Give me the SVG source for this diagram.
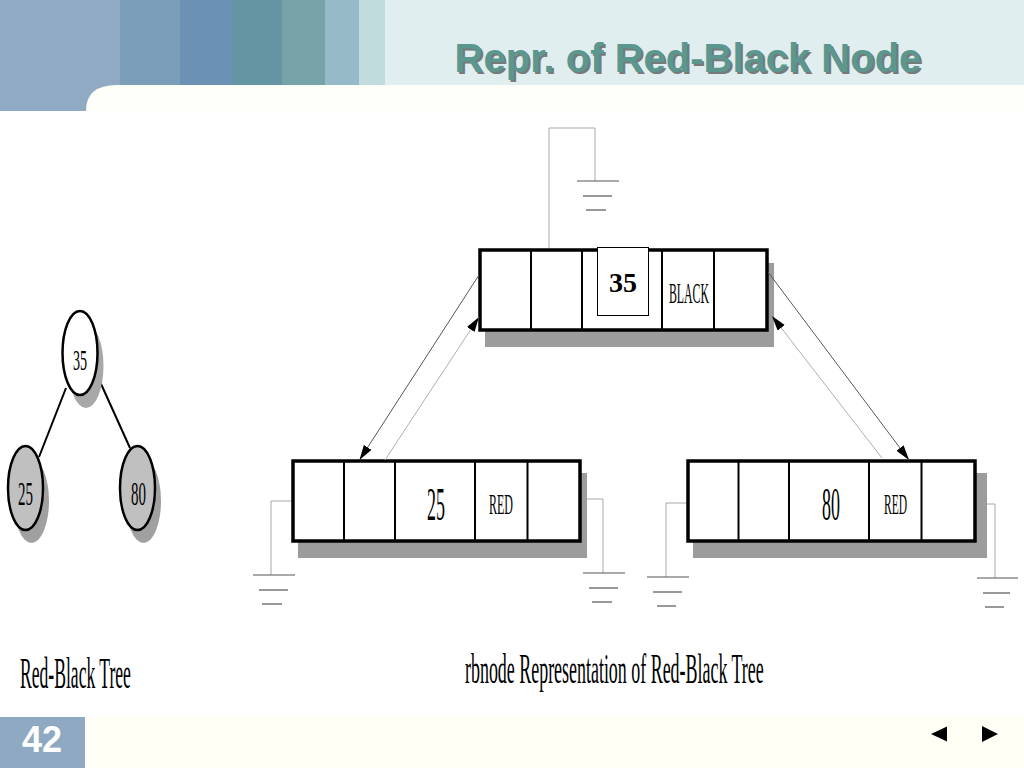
<svg xmlns="http://www.w3.org/2000/svg" width="1024" height="768" viewBox="0 0 1024 768">
  <defs>
    <style>
      .serif { font-family: "Liberation Serif", "Times New Roman", serif; fill: #000; }
      .box { fill: #fff; stroke: #000; stroke-width: 3.5; }
      .div { stroke: #000; stroke-width: 2; }
      .shadow { fill: #9c9c9c; }
      .wire { fill: none; stroke: #a8a8a8; stroke-width: 1; }
      .gnd { stroke: #555; stroke-width: 1.2; }
      .edge { stroke: #000; stroke-width: 2; }
    </style>
    <marker id="arr" markerUnits="userSpaceOnUse" markerWidth="16" markerHeight="10" refX="15" refY="4.5" orient="auto">
      <path d="M0,0 L15,4.5 L0,9 Z" fill="#000"/>
    </marker>
  </defs>

  <!-- background -->
  <rect x="0" y="0" width="1024" height="768" fill="#ffffff"/>
  <g id="header">
    <rect x="0" y="0" width="1024" height="85" fill="#e1eeef"/>
    <rect x="0" y="0" width="120" height="111" fill="#91aac3"/>
    <rect x="120" y="0" width="60" height="85" fill="#7a9db9"/>
    <rect x="180" y="0" width="52" height="85" fill="#6b91b5"/>
    <rect x="232" y="0" width="50" height="85" fill="#6595a3"/>
    <rect x="282" y="0" width="43" height="85" fill="#76a3a8"/>
    <rect x="325" y="0" width="34" height="85" fill="#96bac8"/>
    <rect x="359" y="0" width="26" height="85" fill="#c1dcdd"/>
    <path d="M86,111 Q86,85 117,85 L1024,85 L1024,111 Z" fill="#fffffa"/>
    <text x="690" y="74" font-family="Liberation Sans, Arial, sans-serif" font-size="40" font-weight="bold" text-anchor="middle" fill="#666666" opacity="0.85">Repr. of Red-Black Node</text>
    <text x="688" y="72" font-family="Liberation Sans, Arial, sans-serif" font-size="40" font-weight="bold" text-anchor="middle" fill="#5b978f">Repr. of Red-Black Node</text>
  </g>

  <g id="footer">
    <rect x="0" y="717" width="1024" height="51" fill="#fffff6"/>
    <rect x="0" y="717" width="85" height="51" fill="#8fa9c2"/>
    <text x="42" y="752" font-family="Liberation Sans, Arial, sans-serif" font-size="36" font-weight="bold" text-anchor="middle" fill="#ffffff">42</text>
    <path d="M931,734 L947,726.5 L947,741.5 Z" fill="#000"/>
    <path d="M998,734 L982,726 L982,742 Z" fill="#000"/>
  </g>

  <!-- Left: red-black tree -->
  <g id="tree-edges">
    <line class="edge" x1="66" y1="388" x2="39" y2="457"/>
    <line class="edge" x1="97" y1="375" x2="130" y2="448"/>
  </g>
  <g id="tree-35">
    <ellipse cx="86" cy="366" rx="17.5" ry="42" fill="#a8a8a8"/>
    <ellipse cx="80" cy="353" rx="17.5" ry="42" fill="#fff" stroke="#000" stroke-width="2.5"/>
    <text class="serif" transform="translate(80,370) scale(0.47,1)" x="0" y="0" font-size="30" text-anchor="middle">35</text>
  </g>
  <g id="tree-25">
    <ellipse cx="31.5" cy="501" rx="17.5" ry="42" fill="#a0a0a0"/>
    <ellipse cx="25.5" cy="488" rx="17.5" ry="42" fill="#c0c0c0" stroke="#000" stroke-width="2.5"/>
    <text class="serif" transform="translate(25.5,505) scale(0.44,1)" x="0" y="0" font-size="34" text-anchor="middle">25</text>
  </g>
  <g id="tree-80">
    <ellipse cx="143.5" cy="501" rx="17.5" ry="42" fill="#a0a0a0"/>
    <ellipse cx="137.5" cy="488" rx="17.5" ry="42" fill="#c0c0c0" stroke="#000" stroke-width="2.5"/>
    <text class="serif" transform="translate(138.5,505) scale(0.44,1)" x="0" y="0" font-size="34" text-anchor="middle">80</text>
  </g>
  <text class="serif" transform="translate(20,688) scale(0.4,1)" x="0" y="0" font-size="44">Red-Black Tree</text>

  <!-- rbnode representation -->
  <g id="rb-35">
    <polyline class="wire" points="549,248 549,128 595,128 595,181"/>
    <line class="gnd" x1="577" y1="181" x2="619" y2="181"/>
    <line class="gnd" x1="583" y1="196" x2="612" y2="196" stroke="#888"/>
    <line class="gnd" x1="586" y1="210" x2="606" y2="210"/>
    <rect class="shadow" x="485" y="263" width="289" height="84"/>
    <rect class="box" x="480" y="250" width="287" height="80"/>
    <line class="div" x1="531" y1="250" x2="531" y2="330"/>
    <line class="div" x1="582" y1="250" x2="582" y2="330"/>
    <line class="div" x1="662" y1="250" x2="662" y2="330"/>
    <line class="div" x1="714" y1="250" x2="714" y2="330"/>
    <rect x="597.5" y="247.5" width="51" height="68" fill="#fff" stroke="#000" stroke-width="1"/>
    <text class="serif" x="623" y="292" font-size="28" font-weight="bold" text-anchor="middle">35</text>
    <text class="serif" transform="translate(669,303) scale(0.393,1)" x="0" y="0" font-size="30">BLACK</text>
  </g>

  <g id="rb-25">
    <polyline class="wire" points="293,501 271,501 271,575"/>
    <line class="gnd" x1="253" y1="575" x2="295" y2="575"/>
    <line class="gnd" x1="259" y1="590" x2="288" y2="590" stroke="#888"/>
    <line class="gnd" x1="262" y1="604" x2="282" y2="604"/>
    <polyline class="wire" points="581,499 603,499 603,573"/>
    <line class="gnd" x1="583" y1="573" x2="625" y2="573"/>
    <line class="gnd" x1="589" y1="588" x2="618" y2="588"/>
    <line class="gnd" x1="592" y1="602" x2="612" y2="602"/>
    <rect class="shadow" x="298" y="473" width="289" height="85"/>
    <rect class="box" x="293" y="461" width="287" height="80"/>
    <line class="div" x1="344" y1="461" x2="344" y2="541"/>
    <line class="div" x1="395" y1="461" x2="395" y2="541"/>
    <line class="div" x1="475" y1="461" x2="475" y2="541"/>
    <line class="div" x1="527.5" y1="461" x2="527.5" y2="541"/>
    <text class="serif" transform="translate(436,520) scale(0.39,1)" x="0" y="0" font-size="46" text-anchor="middle">25</text>
    <text class="serif" transform="translate(489,514) scale(0.4,1)" x="0" y="0" font-size="30">RED</text>
  </g>

  <g id="rb-80">
    <polyline class="wire" points="688,503 666,503 666,577"/>
    <line class="gnd" x1="647" y1="577" x2="689" y2="577"/>
    <line class="gnd" x1="653" y1="592" x2="682" y2="592"/>
    <line class="gnd" x1="657" y1="606" x2="676" y2="606"/>
    <polyline class="wire" points="975,504 995,504 995,578"/>
    <line class="gnd" x1="977" y1="578" x2="1018" y2="578"/>
    <line class="gnd" x1="983" y1="593" x2="1010" y2="593"/>
    <line class="gnd" x1="985" y1="607" x2="1004" y2="607"/>
    <rect class="shadow" x="693" y="473" width="294" height="85"/>
    <rect class="box" x="688" y="461" width="287" height="80"/>
    <line class="div" x1="738.5" y1="461" x2="738.5" y2="541"/>
    <line class="div" x1="789" y1="461" x2="789" y2="541"/>
    <line class="div" x1="869" y1="461" x2="869" y2="541"/>
    <line class="div" x1="921.5" y1="461" x2="921.5" y2="541"/>
    <text class="serif" transform="translate(831,520) scale(0.39,1)" x="0" y="0" font-size="46" text-anchor="middle">80</text>
    <text class="serif" transform="translate(884,514) scale(0.385,1)" x="0" y="0" font-size="30">RED</text>
  </g>

  <g id="connectors">
    <line x1="479" y1="275" x2="359.5" y2="460" stroke="#555" stroke-width="1" marker-end="url(#arr)"/>
    <line x1="385" y1="460" x2="479" y2="317" stroke="#b0b0b0" stroke-width="1" marker-end="url(#arr)"/>
    <line x1="768" y1="272" x2="909" y2="460" stroke="#555" stroke-width="1" marker-end="url(#arr)"/>
    <line x1="882" y1="458" x2="772" y2="316" stroke="#b0b0b0" stroke-width="1" marker-end="url(#arr)"/>
  </g>

  <text class="serif" transform="translate(465,683) scale(0.427,1)" x="0" y="0" font-size="42">rbnode Representation of Red-Black Tree</text>
</svg>
